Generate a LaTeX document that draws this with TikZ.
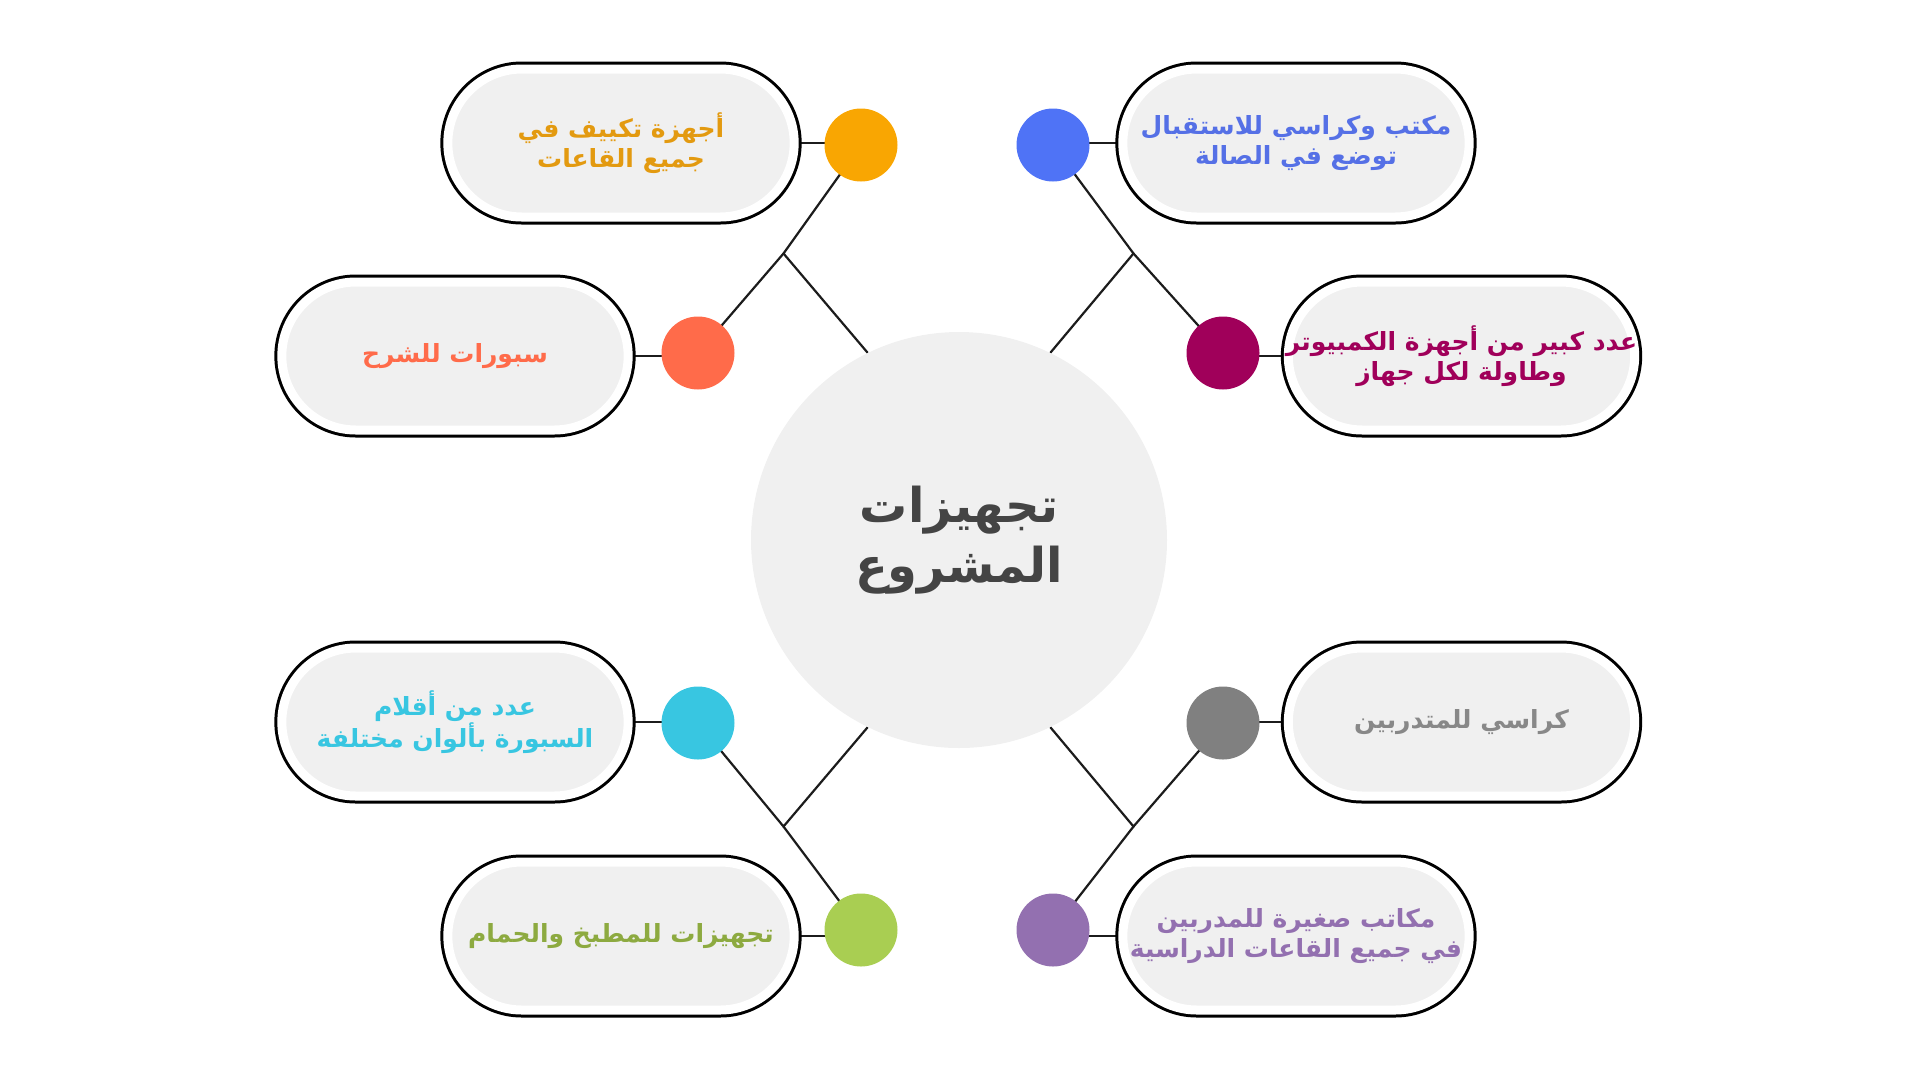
\documentclass[tikz,border=0pt]{standalone}
\usepackage{fontspec}
\usetikzlibrary{shapes.misc,backgrounds}
\TeXXeTstate=1
\newfontfamily\arabicfont[Script=Arabic]{DejaVu Sans}
\newcommand{\artxt}[1]{\beginR #1\endR}

\definecolor{pillgray}{HTML}{F0F0F0}
\definecolor{linkgray}{HTML}{1C1C1C}
\definecolor{titlegray}{HTML}{444444}
\definecolor{acorange}{HTML}{F9A602}
\definecolor{actext}{HTML}{E39A10}
\definecolor{deskblue}{HTML}{4F73F6}
\definecolor{desktext}{HTML}{5570E6}
\definecolor{boardred}{HTML}{FF6B4A}
\definecolor{compmag}{HTML}{A0005A}
\definecolor{penscyan}{HTML}{38C6E1}
\definecolor{kitgreen}{HTML}{A9CE52}
\definecolor{kittext}{HTML}{8DAA40}
\definecolor{chairgray}{HTML}{808080}
\definecolor{chairtext}{HTML}{888888}
\definecolor{smallpurple}{HTML}{9370B0}

\begin{document}
\begin{tikzpicture}[x=1pt, y=-1pt,
    pill/.style={rounded rectangle, minimum width=353pt, minimum height=148pt,
      fill=pillgray, draw=white, line width=9pt,
      preaction={draw=black, line width=15pt}, outer sep=7.5pt},
    txt/.style={text=#1, align=center, inner sep=0pt,
      font=\arabicfont\bfseries\fontsize{25}{30}\selectfont},
    dot/.style={circle, fill=#1, minimum size=73pt, inner sep=0pt},
    link/.style={line width=2.2pt, draw=linkgray}]
	\useasboundingbox (0,0) rectangle (1920,1080);

	% centre
	\node[circle, fill=pillgray, minimum size=416pt, inner sep=0pt] (ctr) at (959,540) {};
	\node[text=titlegray, align=center, font=\arabicfont\bfseries\fontsize{48}{60}\selectfont] (tTitle) at (ctr) {\artxt{تجهيزات}\\\artxt{المشروع}};

	% junctions
	\coordinate (jUL) at (783.5,253.5);
	\coordinate (jUR) at (1133.5,253.5);
	\coordinate (jLL) at (783.5,826.5);
	\coordinate (jLR) at (1133.5,826.5);

	% pills
	\node[pill] (pAC) at (621,143) {};
	\node[pill] (pDesk) at (1296,143) {};
	\node[pill] (pBoard) at (455,356) {};
	\node[pill] (pComp) at (1461.5,356) {};
	\node[pill] (pPens) at (455,722) {};
	\node[pill] (pChairs) at (1461.5,722) {};
	\node[pill] (pKitchen) at (621,936) {};
	\node[pill] (pSmall) at (1296,936) {};

	\node[txt=actext] (tAC) at (pAC) {\artxt{أجهزة تكييف في}\\\artxt{جميع القاعات}};
	\node[txt=desktext] (tDesk) at (pDesk) {\artxt{مكتب وكراسي للاستقبال}\\\artxt{توضع في الصالة}};
	\node[txt=boardred] (tBoard) at (pBoard) {\artxt{سبورات للشرح}};
	\node[txt=compmag] (tComp) at (pComp) {\artxt{عدد كبير من أجهزة الكمبيوتر}\\\artxt{وطاولة لكل جهاز}};
	\node[txt=penscyan] (tPens) at (pPens) {\artxt{عدد من أقلام}\\\artxt{السبورة بألوان مختلفة}};
	\node[txt=chairtext] (tChairs) at (pChairs) {\artxt{كراسي للمتدربين}};
	\node[txt=kittext] (tKitchen) at (pKitchen) {\artxt{تجهيزات للمطبخ والحمام}};
	\node[txt=smallpurple] (tSmall) at (pSmall) {\artxt{مكاتب صغيرة للمدربين}\\\artxt{في جميع القاعات الدراسية}};

	% dots
	\node[dot=acorange] (cAC) at (861,145) {};
	\node[dot=deskblue] (cDesk) at (1053,145) {};
	\node[dot=boardred] (cBoard) at (698,353) {};
	\node[dot=compmag] (cComp) at (1223,353) {};
	\node[dot=penscyan] (cPens) at (698,723) {};
	\node[dot=chairgray] (cChairs) at (1223,723) {};
	\node[dot=kitgreen] (cKitchen) at (861,930) {};
	\node[dot=smallpurple] (cSmall) at (1053,930) {};

	\begin{scope}[on background layer]
		\draw[link] (ctr.116) -- (jUL) -- (cAC.center);
		\draw[link] (jUL) -- (cBoard.center);
		\draw[link] (ctr.64) -- (jUR) -- (cDesk.center);
		\draw[link] (jUR) -- (cComp.center);
		\draw[link] (ctr.244) -- (jLL) -- (cPens.center);
		\draw[link] (jLL) -- (cKitchen.center);
		\draw[link] (ctr.296) -- (jLR) -- (cChairs.center);
		\draw[link] (jLR) -- (cSmall.center);
		\foreach \p/\c in {pAC/cAC, pDesk/cDesk, pBoard/cBoard, pComp/cComp,
		                   pPens/cPens, pChairs/cChairs, pKitchen/cKitchen, pSmall/cSmall}
			\draw[link] (\p.center) -- (\p.center -| \c.center);
	\end{scope}
\end{tikzpicture}
\end{document}
